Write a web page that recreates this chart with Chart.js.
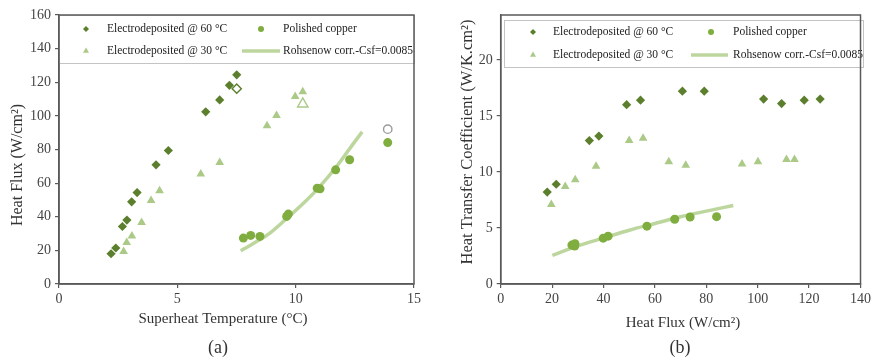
<!DOCTYPE html>
<html>
<head>
<meta charset="utf-8">
<script src="https://cdn.jsdelivr.net/npm/chart.js@4.4.1/dist/chart.umd.min.js"></script>
<style>
  body { margin: 0; background: #fff; width: 874px; height: 364px; position: relative; overflow: hidden; }
  canvas { position: absolute; top: 0; }
</style>
</head>
<body>
<canvas id="chartA" width="440" height="364" style="left:0"></canvas>
<canvas id="chartB" width="434" height="364" style="left:440px"></canvas>
<script>
const seriesNames = ['Electrodeposited @ 60 °C', 'Electrodeposited @ 30 °C', 'Polished copper', 'Rohsenow corr.-Csf=0.0085'];

// (a) superheat (°C) vs heat flux (W/cm2)
const a60T = [2.20, 2.40, 2.68, 2.87, 3.07, 3.30, 4.10, 4.62, 6.20, 6.79, 7.20, 7.51];
const a60Q = [18.0, 21.4, 34.2, 38.0, 48.9, 54.4, 70.9, 79.4, 102.4, 109.5, 118.2, 124.4];
const a30T = [2.73, 2.86, 3.08, 3.49, 3.89, 4.25, 5.99, 6.79, 8.79, 9.19, 9.98, 10.30];
const a30Q = [19.4, 24.7, 28.5, 36.6, 49.7, 55.4, 65.5, 72.3, 94.2, 100.2, 111.5, 114.3];
const aCuT = [7.79, 8.10, 8.49, 9.62, 9.69, 10.91, 11.03, 11.69, 12.28, 13.89];
const aCuQ = [27.3, 28.9, 28.3, 40.2, 41.6, 57.0, 56.6, 67.9, 73.9, 84.1];
// open markers
const a60OpenT = [7.51], a60OpenQ = [116.2];
const a30OpenT = [10.30], a30OpenQ = [107.1];
const aCuOpenT = [13.89], aCuOpenQ = [92.1];
const aRohT = [7.68, 8.30, 8.91, 9.62, 10.25, 10.89, 11.73, 12.50, 12.81];
const aRohQ = [19.8, 24.8, 30.3, 39.0, 47.0, 56.0, 69.9, 84.7, 90.5];

// (b) heat flux (W/cm2) vs heat transfer coefficient (W/K.cm2)
const b60Q = [18.1, 21.6, 34.5, 38.2, 49.0, 54.4, 70.7, 79.2, 102.3, 109.3, 118.1, 124.3];
const b60H = [8.2, 8.9, 12.8, 13.2, 16.0, 16.4, 17.2, 17.2, 16.5, 16.1, 16.4, 16.5];
const b30Q = [19.7, 25.1, 29.0, 37.1, 50.0, 55.4, 65.4, 72.0, 93.9, 100.1, 111.2, 114.3];
const b30H = [7.1, 8.7, 9.3, 10.5, 12.8, 13.0, 10.9, 10.6, 10.7, 10.9, 11.1, 11.1];
const bCuQ = [27.7, 28.8, 28.9, 39.9, 41.8, 56.9, 67.7, 73.7, 84.0];
const bCuH = [3.47, 3.38, 3.60, 4.09, 4.27, 5.16, 5.78, 5.98, 6.01];
const bRohQ = [20.1, 30, 40, 50, 60, 70, 80, 90.5];
const bRohH = [2.55, 3.4, 4.1, 4.8, 5.4, 6.0, 6.5, 7.0];

const DARK = '#5b7f2d';
const LIGHT = '#abc987';
const MID = '#80ad3f';
const LINEC = 'rgba(184,212,152,0.95)';
const AXIS = '#5a5a5a';
const SERIF = '"Liberation Serif", "DejaVu Serif", serif';

const pts = (xs, ys) => xs.map((x, i) => ({ x: x, y: ys[i] }));

function marks(label, data, style, color, r, hollow) {
  return {
    label: label, data: data, showLine: false,
    pointStyle: style, pointRadius: r, pointHoverRadius: r,
    backgroundColor: hollow ? '#fff' : color,
    borderColor: color, borderWidth: hollow ? 1.4 : 0
  };
}
function curve(label, data) {
  return {
    label: label, data: data, showLine: true, pointRadius: 0,
    borderColor: LINEC, borderWidth: 3.5, cubicInterpolationMode: 'monotone', fill: false
  };
}

const paperDecor = {
  id: 'paperDecor',
  afterDatasetsDraw(chart, args, o) {
    const ctx = chart.ctx;
    const b = o.box;
    ctx.save();
    ctx.fillStyle = '#fff';
    ctx.fillRect(b.x, b.y, b.w, b.h);
    ctx.strokeStyle = '#c4c4c4';
    ctx.lineWidth = 1;
    ctx.strokeRect(b.x + 0.5, b.y + 0.5, b.w, b.h);
    ctx.font = '11.5px ' + SERIF;
    ctx.textBaseline = 'middle';
    ctx.textAlign = 'left';
    o.items.forEach(it => {
      const ds = chart.data.datasets[it.ds];
      if (it.x2) {
        ctx.strokeStyle = ds.borderColor;
        ctx.lineWidth = 3.5;
        ctx.beginPath();
        ctx.moveTo(it.x1, it.y);
        ctx.lineTo(it.x2, it.y);
        ctx.stroke();
      } else {
        ctx.fillStyle = ds.backgroundColor;
        Chart.helpers.drawPoint(ctx, { pointStyle: ds.pointStyle, radius: it.r, rotation: 0, borderWidth: 0 }, it.x, it.y);
      }
      ctx.fillStyle = '#222';
      ctx.fillText(ds.label, it.tx, it.y);
    });
    ctx.restore();
  },
  afterDraw(chart, args, o) {
    const { ctx, chartArea: ca } = chart;
    ctx.save();
    ctx.strokeStyle = AXIS;
    ctx.lineWidth = 1.5;
    ctx.strokeRect(ca.left, ca.top, ca.right - ca.left, ca.bottom - ca.top);
    ctx.fillStyle = '#333';
    ctx.textAlign = 'center';
    ctx.textBaseline = 'middle';
    ctx.font = '15px ' + SERIF;
    ctx.fillText(o.xTitle, o.xt[0], o.xt[1]);
    ctx.save();
    ctx.translate(o.yt[0], o.yt[1]);
    ctx.rotate(-Math.PI / 2);
    ctx.font = o.ySize + 'px ' + SERIF;
    ctx.fillText(o.yTitle, 0, 0);
    ctx.restore();
    ctx.font = '18px ' + SERIF;
    ctx.fillText(o.caption, o.cap[0], o.cap[1]);
    ctx.restore();
  }
};

function axes(xmin, xmax, xstep, ymin, ymax, ystep, yWidth) {
  const tickFont = { family: SERIF, size: 14 };
  const grid = { drawOnChartArea: false, drawTicks: true, tickLength: 4, color: AXIS, lineWidth: 1.2 };
  return {
    x: {
      type: 'linear', min: xmin, max: xmax,
      ticks: { stepSize: xstep, font: tickFont, color: '#444', padding: 3, maxRotation: 0 },
      grid: grid, border: { color: AXIS, width: 1.5 },
      afterFit: s => { s.height = 80; }
    },
    y: {
      type: 'linear', min: ymin, max: ymax,
      ticks: { stepSize: ystep, font: tickFont, color: '#444', padding: 4 },
      grid: grid, border: { color: AXIS, width: 1.5 },
      afterBuildTicks: s => { s.ticks = s.ticks.filter(t => Math.abs(t.value / ystep - Math.round(t.value / ystep)) < 1e-6); },
      afterFit: s => { s.width = yWidth; }
    }
  };
}

new Chart(document.getElementById('chartA'), {
  type: 'scatter',
  data: {
    datasets: [
      marks(seriesNames[0], pts(a60T, a60Q), 'rectRot', DARK, 4.6, false),
      marks(seriesNames[1], pts(a30T, a30Q), 'triangle', LIGHT, 5, false),
      marks(seriesNames[2], pts(aCuT, aCuQ), 'circle', MID, 4.5, false),
      marks('', pts(a60OpenT, a60OpenQ), 'rectRot', DARK, 4.6, true),
      marks('', pts(a30OpenT, a30OpenQ), 'triangle', LIGHT, 6, true),
      marks('', pts(aCuOpenT, aCuOpenQ), 'circle', '#9a9a9a', 4.2, true),
      curve(seriesNames[3], pts(aRohT, aRohQ))
    ]
  },
  options: {
    responsive: false, animation: false,
    layout: { padding: { left: 5, right: 26, top: 15, bottom: 0 } },
    scales: axes(0, 15, 5, 0, 160, 20, 54),
    plugins: {
      legend: { display: false },
      tooltip: { enabled: false },
      paperDecor: {
        box: { x: 59, y: 15, w: 355, h: 48 },
        items: [
          { ds: 0, x: 86, y: 29, r: 3, tx: 107 },
          { ds: 1, x: 86, y: 51, r: 3.5, tx: 107 },
          { ds: 2, x: 261, y: 29, r: 3, tx: 283 },
          { ds: 6, x1: 242, x2: 280, y: 51, tx: 283 }
        ],
        xTitle: 'Superheat Temperature (°C)', xt: [223, 319],
        yTitle: 'Heat Flux (W/cm²)', ySize: 16, yt: [18, 165],
        caption: '(a)', cap: [218, 348]
      }
    }
  },
  plugins: [paperDecor]
});

new Chart(document.getElementById('chartB'), {
  type: 'scatter',
  data: {
    datasets: [
      marks(seriesNames[0], pts(b60Q, b60H), 'rectRot', DARK, 4.6, false),
      marks(seriesNames[1], pts(b30Q, b30H), 'triangle', LIGHT, 5, false),
      marks(seriesNames[2], pts(bCuQ, bCuH), 'circle', MID, 4.5, false),
      curve(seriesNames[3], pts(bRohQ, bRohH))
    ]
  },
  options: {
    responsive: false, animation: false,
    layout: { padding: { left: 5, right: 10.7, top: 15, bottom: 0 } },
    scales: axes(0, 140, 20, 0, 24, 5, 55.7),
    plugins: {
      legend: { display: false },
      tooltip: { enabled: false },
      paperDecor: {
        box: { x: 64, y: 20, w: 359, h: 47 },
        items: [
          { ds: 0, x: 93, y: 32, r: 3, tx: 113 },
          { ds: 1, x: 93, y: 55, r: 3.5, tx: 113 },
          { ds: 2, x: 271, y: 32, r: 3, tx: 293 },
          { ds: 3, x1: 251, x2: 288, y: 55, tx: 293 }
        ],
        xTitle: 'Heat Flux (W/cm²)', xt: [243, 323],
        yTitle: 'Heat Transfer Coefficient (W/K.cm²)', ySize: 16.5, yt: [28, 142],
        caption: '(b)', cap: [240, 348]
      }
    }
  },
  plugins: [paperDecor]
});
</script>
</body>
</html>
